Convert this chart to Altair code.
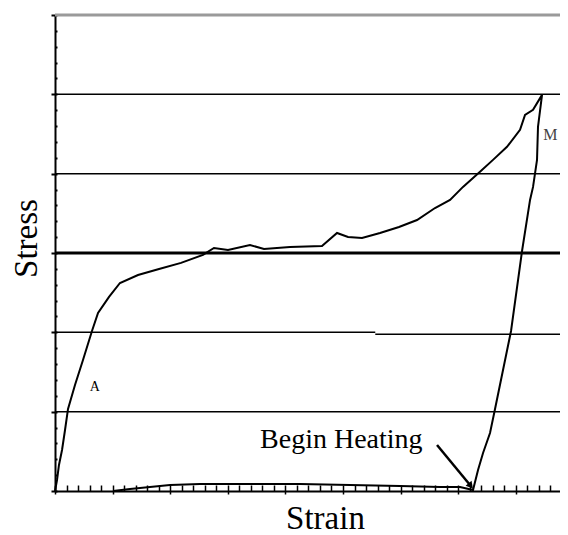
import altair as alt
import pandas as pd

# ---- curve data (strain, stress), in path order ----
strain = [0.0, 0.035, 0.069, 0.122, 0.174, 0.226, 0.347, 0.486, 0.642, 0.747, 0.938,
          1.128, 1.441, 1.806, 2.188, 2.569, 2.760, 3.003, 3.385, 3.628, 4.080, 4.635,
          4.896, 5.087, 5.330, 5.642, 5.972, 6.285, 6.597, 6.858, 7.083, 7.378, 7.604,
          7.847, 8.073, 8.160, 8.299, 8.455,
          8.385, 8.368, 8.299, 8.247, 8.108, 7.917, 7.639, 7.552, 7.431, 7.344, 7.257,
          7.031, 6.684, 5.990, 5.122, 4.253, 3.385, 2.517, 1.997, 1.649, 1.302, 1.007]
stress = [0.0, 0.139, 0.328, 0.517, 0.769, 1.034, 1.336, 1.651, 2.017, 2.244, 2.446,
          2.622, 2.723, 2.799, 2.875, 2.976, 3.063, 3.038, 3.101, 3.051, 3.076, 3.088,
          3.252, 3.202, 3.190, 3.252, 3.328, 3.416, 3.567, 3.669, 3.833, 4.023, 4.174,
          4.338, 4.552, 4.741, 4.804, 4.993,
          4.590, 4.174, 3.833, 3.669, 3.025, 2.017, 1.034, 0.731, 0.479, 0.265, 0.013,
          0.050, 0.050, 0.063, 0.076, 0.088, 0.088, 0.088, 0.076, 0.050, 0.025, 0.0]

# horizontal reference lines
grid_y = [1, 4, 5]
grid2_x = [0.0, 5.56]
grid2_x2 = [5.56, 8.767]
grid2_y = [2.0, 1.975]
thick_y = [3]
top_y = [6]

# tick values
x_major = [0, 1, 2, 3, 4, 5, 6, 7, 8]
x_minor = [round(i * 0.2, 1) for i in range(0, 44)]
y_major = [0, 1, 2, 3, 4, 5, 6]
y_minor = [round(i * 0.2, 1) for i in range(0, 31)]

# annotations
point_labels = ["A", "M"]
point_label_x = [0.69, 8.6]
point_label_y = [1.31, 4.49]
heat_label = ["Begin Heating"]
heat_label_x = [3.56]
heat_label_y = [0.54]
arrow_x = [6.632]
arrow_y = [0.58]
arrow_x2 = [7.205]
arrow_y2 = [0.076]

FONT = "Liberation Serif"
W = 505
xs = alt.Scale(domain=[0, 8.767], nice=False, zero=False)
ys = alt.Scale(domain=[0, 6], nice=False, zero=False)

curve = pd.DataFrame({"strain": strain, "stress": stress, "i": range(len(strain))})

x_main = alt.Axis(values=x_major, tickSize=3, tickWidth=1.5, tickColor="black",
                  labels=False, grid=False, domainColor="black", domainWidth=2,
                  orient="bottom", title="Strain", titleFont=FONT, titleFontSize=33,
                  titleFontWeight="normal", titleColor="black", titleX=270, titleY=37,
                  titleAlign="center", titleBaseline="alphabetic")
y_main = alt.Axis(values=y_major, tickSize=4, tickWidth=2, tickColor="black",
                  labels=False, grid=False, domainColor="black", domainWidth=2,
                  orient="left", title="Stress", titleFont=FONT, titleFontSize=33,
                  titleFontWeight="normal", titleColor="black", titleAngle=270,
                  titleX=-19, titleY=223, titleAlign="center", titleBaseline="alphabetic")
x_minor_ax = alt.Axis(values=x_minor, tickSize=6, tickWidth=1.5, tickColor="black",
                      labels=False, grid=False, domain=False, orient="bottom",
                      offset=-6, title=None)
y_minor_ax = alt.Axis(values=y_minor, tickSize=2, tickWidth=2, tickColor="black",
                      labels=False, grid=False, domain=False, orient="left",
                      offset=-2, title=None)

grid = alt.Chart(pd.DataFrame({"y": grid_y})).mark_rule(color="black", strokeWidth=1.5).encode(
    y=alt.Y("y:Q", scale=ys, axis=y_minor_ax),
    x=alt.value(0), x2=alt.value(W))
grid2 = alt.Chart(pd.DataFrame({"x": grid2_x, "x2": grid2_x2, "y": grid2_y})).mark_rule(
    color="black", strokeWidth=1.5).encode(
    x=alt.X("x:Q", scale=xs, axis=x_minor_ax), x2="x2:Q",
    y=alt.Y("y:Q", scale=ys, axis=None))
thick = alt.Chart(pd.DataFrame({"y": thick_y})).mark_rule(color="black", strokeWidth=3).encode(
    y=alt.Y("y:Q", scale=ys, axis=None), x=alt.value(0), x2=alt.value(W))
top = alt.Chart(pd.DataFrame({"y": top_y})).mark_rule(color="#9a9a9a", strokeWidth=3).encode(
    y=alt.Y("y:Q", scale=ys, axis=None), x=alt.value(0), x2=alt.value(W))

line = alt.Chart(curve).mark_line(color="black", strokeWidth=2).encode(
    x=alt.X("strain:Q", scale=xs, axis=x_main),
    y=alt.Y("stress:Q", scale=ys, axis=y_main),
    order="i:Q")

labels_df = pd.DataFrame({"t": point_labels, "x": point_label_x, "y": point_label_y})
lab_a = alt.Chart(labels_df.iloc[[0]]).mark_text(font=FONT, fontSize=14, color="black",
                                                 align="center", baseline="middle").encode(
    x=alt.X("x:Q", scale=xs, axis=None), y=alt.Y("y:Q", scale=ys, axis=None), text="t:N")
lab_m = alt.Chart(labels_df.iloc[[1]]).mark_text(font=FONT, fontSize=16, color="#444444",
                                                 align="center", baseline="middle").encode(
    x=alt.X("x:Q", scale=xs, axis=None), y=alt.Y("y:Q", scale=ys, axis=None), text="t:N")
heat = alt.Chart(pd.DataFrame({"t": heat_label, "x": heat_label_x, "y": heat_label_y})).mark_text(
    font=FONT, fontSize=28, color="black", align="left", baseline="alphabetic").encode(
    x=alt.X("x:Q", scale=xs, axis=None), y=alt.Y("y:Q", scale=ys, axis=None), text="t:N")

arrow_df = pd.DataFrame({"x": arrow_x, "y": arrow_y, "x2": arrow_x2, "y2": arrow_y2})
arrow = alt.Chart(arrow_df).mark_rule(color="black", strokeWidth=2.5).encode(
    x=alt.X("x:Q", scale=xs, axis=None), y=alt.Y("y:Q", scale=ys, axis=None),
    x2="x2:Q", y2="y2:Q")
head = alt.Chart(arrow_df).mark_point(shape="triangle", filled=True, color="black",
                                      size=60, angle=140, opacity=1).encode(
    x=alt.X("x2:Q", scale=xs, axis=None), y=alt.Y("y2:Q", scale=ys, axis=None))

chart = alt.layer(grid, grid2, thick, top, line, lab_a, lab_m, heat, arrow, head).resolve_axis(
    x="independent", y="independent"
).properties(
    width=W, height=476,
    autosize=alt.AutoSizeParams(type="none"),
    padding={"left": 47, "top": 7, "right": 0, "bottom": 44},
    background="white",
).configure_view(stroke=None)

chart.save("out.html", embed_options={"renderer": "svg", "actions": False})
